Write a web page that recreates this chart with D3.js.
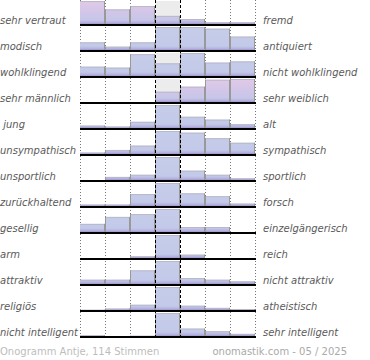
<!DOCTYPE html>
<html><head><meta charset="utf-8">
<script src="https://cdn.jsdelivr.net/npm/d3@7"></script>
<style>
html,body{margin:0;padding:0;background:#fff;}
svg{display:block;}
text{font-family:"DejaVu Sans",Verdana,sans-serif;}
</style></head>
<body>
<script>
const leftLabels = ["sehr vertraut","modisch","wohlklingend","sehr männlich"," jung","unsympathisch","unsportlich","zurückhaltend","gesellig","arm","attraktiv","religiös","nicht intelligent"];
const rightLabels = ["fremd","antiquiert","nicht wohlklingend","sehr weiblich","alt","sympathisch","sportlich","forsch","einzelgängerisch","reich","nicht attraktiv","atheistisch","sehr intelligent"];
const steps = [1,2,3,4,5,6,7];
// relative share per step (row maximum = 100)
const shares = [
  [100,65,79,38,25,11,11],
  [36,18,36,100,100,93,60],
  [43,39,95,57,100,60,65],
  [0,2,2,47,68,97,100],
  [14,10,30,100,51,39,20],
  [10,21,39,100,93,70,51],
  [3,17,26,100,43,26,11],
  [10,10,54,100,57,45,14],
  [38,67,79,100,25,25,0],
  [0,0,11,100,18,0,0],
  [22,22,61,100,29,22,15],
  [5,10,26,100,22,13,8],
  [7,0,5,100,35,24,13]
];
const pinkRows = [0,3];
const footerLeft = "Onogramm Antje, 114 Stimmen";
const footerRight = "onomastik.com - 05 / 2025";

const W = 370, H = 360;
const svg = d3.select("body").append("svg").attr("width",W).attr("height",H);
const defs = svg.append("defs");

const x = d3.scaleBand().domain(steps).range([80,255]).padding(0);
const rowIdx = d3.range(leftLabels.length);
const y = d3.scaleBand().domain(rowIdx).range([-1,337]).padding(0);
const rowH = 24;

rowIdx.forEach(i => {
  const base = y(i) + y.bandwidth();
  const g = defs.append("linearGradient").attr("id","grad"+i)
    .attr("gradientUnits","userSpaceOnUse").attr("x1",0).attr("x2",0)
    .attr("y1",base-rowH).attr("y2",base);
  const pink = pinkRows.includes(i);
  const stops = pink
    ? [[0,"#e2c9e7"],[0.45,"#d2c6e8"],[0.8,"#c6c6e8"],[0.9,"#b6b0de"],[1,"#9182c0"]]
    : [[0,"#c6cdea"],[0.8,"#c3c9e8"],[0.9,"#b4b2de"],[1,"#9182c0"]];
  stops.forEach(s => g.append("stop").attr("offset",s[0]).attr("stop-color",s[1]));
});

// center column gray background
rowIdx.forEach(i => {
  const base = y(i) + y.bandwidth();
  svg.append("rect").attr("x",x(4)).attr("y",base-rowH)
    .attr("width",x.bandwidth()).attr("height",rowH).attr("fill","#ececec");
});

// dotted grid lines
const gridXs = [x(1), x(2), x(3), x(5)+x.bandwidth(), x(6)+x.bandwidth(), x(7)+x.bandwidth()];
svg.append("g").selectAll("line").data(gridXs).join("line")
  .attr("x1",d=>d+0.5).attr("x2",d=>d+0.5).attr("y1",0).attr("y2",339)
  .attr("stroke","#777").attr("stroke-width",1).attr("stroke-dasharray","1,2");

// bars
rowIdx.forEach(i => {
  const base = y(i) + y.bandwidth();
  const h = d3.scaleLinear().domain([0, d3.max(shares[i])]).range([0,rowH]);
  const g = svg.append("g");
  const data = shares[i].map((v,j)=>({step:steps[j], v}));
  g.selectAll("rect").data(data.filter(d=>d.v>0)).join("rect")
    .attr("x",d=>x(d.step)).attr("width",x.bandwidth())
    .attr("y",d=>base-h(d.v)).attr("height",d=>h(d.v))
    .attr("fill","url(#grad"+i+")");
  g.selectAll("line.top").data(data.filter(d=>d.v>0)).join("line").attr("class","top")
    .attr("x1",d=>x(d.step)).attr("x2",d=>x(d.step)+x.bandwidth())
    .attr("y1",d=>base-h(d.v)+0.5).attr("y2",d=>base-h(d.v)+0.5)
    .attr("stroke","#b9b9c9").attr("stroke-width",1);
  const sides = [];
  data.forEach(d => { if (d.v>0) { sides.push({xx:x(d.step), v:d.v}); sides.push({xx:x(d.step)+x.bandwidth()-1, v:d.v}); }});
  g.selectAll("line.side").data(sides.filter(s=>s.xx>80)).join("line").attr("class","side")
    .attr("x1",s=>s.xx+0.5).attr("x2",s=>s.xx+0.5)
    .attr("y1",s=>base-h(s.v)).attr("y2",base)
    .attr("stroke","#999").attr("stroke-width",1);
  svg.append("line").attr("x1",80).attr("x2",256).attr("y1",base).attr("y2",base)
    .attr("stroke","#000").attr("stroke-width",2);
});

// center dashed lines
[x(4), x(4)+x.bandwidth()].forEach(xx => {
  svg.append("line").attr("x1",xx+0.5).attr("x2",xx+0.5).attr("y1",0).attr("y2",339)
    .attr("stroke","#000").attr("stroke-width",1).attr("stroke-dasharray","3,2");
});

// labels
svg.append("g").selectAll("text").data(leftLabels).join("text")
  .attr("x",0).attr("y",(d,i)=>y(i)+y.bandwidth()-1.5)
  .attr("font-size",10).attr("font-style","italic").attr("fill","#5a5a5a")
  .style("white-space","pre")
  .text(d=>d)
  .each(function(){ const w=this.getComputedTextLength(); if (w>78) d3.select(this).attr("textLength",78).attr("lengthAdjust","spacingAndGlyphs"); });
svg.append("g").selectAll("text").data(rightLabels).join("text")
  .attr("x",263).attr("y",(d,i)=>y(i)+y.bandwidth()-1.5)
  .attr("font-size",10).attr("font-style","italic").attr("fill","#5a5a5a")
  .text(d=>d);

svg.append("text").attr("x",0).attr("y",355).attr("font-size",10).attr("fill","#bdbdbd").text(footerLeft);
svg.append("text").attr("x",347).attr("y",355).attr("text-anchor","end").attr("font-size",10).attr("fill","#aaa").text(footerRight);
</script>
</body></html>
